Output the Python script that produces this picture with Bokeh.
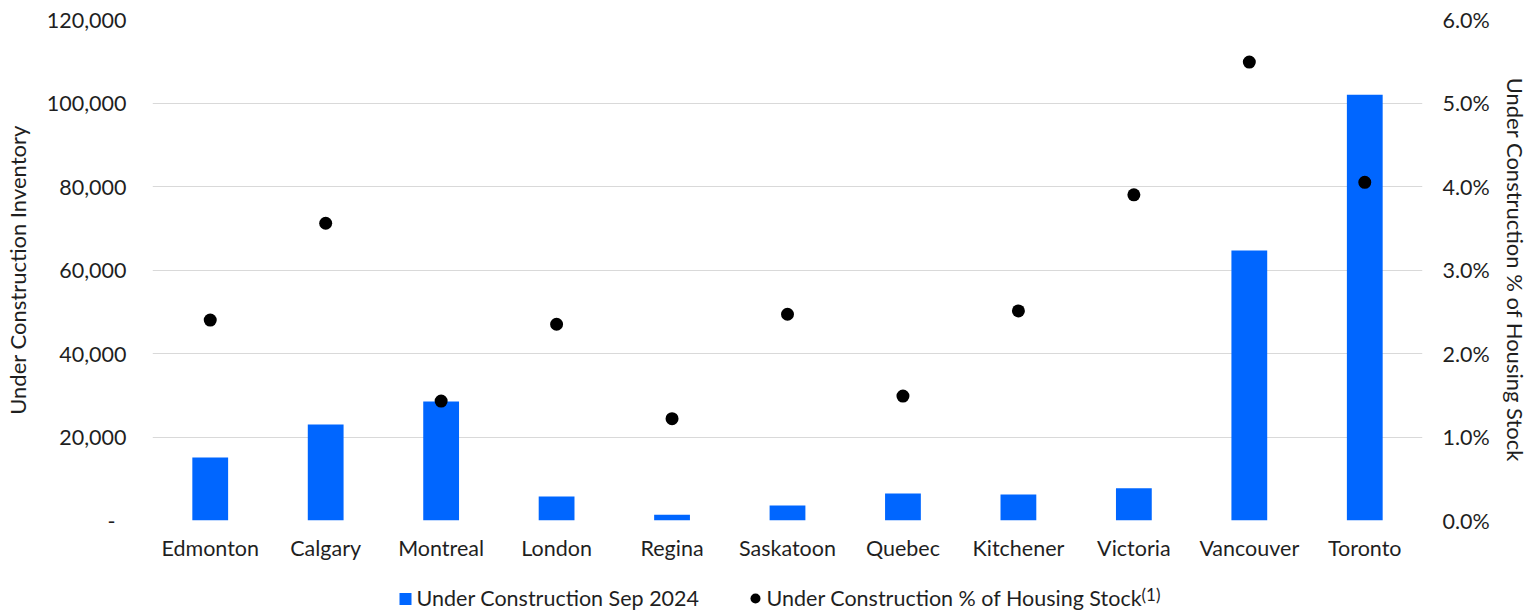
from bokeh.plotting import figure
from bokeh.models import (Range1d, LinearAxis, FixedTicker, NumeralTickFormatter,
                          CustomJSTickFormatter, ColumnDataSource)
from bokeh.layouts import column
from bokeh.embed import file_html
from bokeh.resources import INLINE
from bokeh.core.properties import value

cities = ["Edmonton", "Calgary", "Montreal", "London", "Regina", "Saskatoon",
          "Quebec", "Kitchener", "Victoria", "Vancouver", "Toronto"]
under_construction = [15100, 23000, 28500, 5750, 1400, 3600, 6450, 6200, 7700, 64700, 102000]
pct_housing_stock = [0.0240, 0.0356, 0.0143, 0.0235, 0.0122, 0.0247, 0.0149, 0.0251, 0.0390, 0.0549, 0.0405]
left_ticks = [0, 20000, 40000, 60000, 80000, 100000, 120000]
right_ticks = [0.0, 0.01, 0.02, 0.03, 0.04, 0.05, 0.06]
legend_labels = ["Under Construction Sep 2024", "Under Construction % of Housing Stock", "(1)"]

BAR = "#0066FF"
TXT = "#1f1f1f"
GRID = "#d9d9d9"
FONT = "Lato"
TICK_FS = "21.5px"
TITLE_FS = "22px"

src = ColumnDataSource(dict(city=cities, uc=under_construction, pct=pct_housing_stock))

W = 1533
FL, FR = 152, 1422  # frame left/right in page pixels

p = figure(x_range=cities, y_range=Range1d(0, 120000), width=W, height=564,
           output_backend="svg", toolbar_location=None,
           min_border_left=FL, min_border_right=W - FR, min_border_top=19, min_border_bottom=44)
p.outline_line_color = None
p.extra_y_ranges = {"pct": Range1d(0, 0.06)}

p.vbar(x="city", top="uc", width=0.31, source=src, fill_color=BAR, line_color=None)
p.scatter(x="city", y="pct", y_range_name="pct", source=src, size=13,
          fill_color="black", line_color=None)

p.xgrid.grid_line_color = None
p.ygrid.grid_line_color = GRID
p.ygrid.grid_line_width = 1
p.ygrid.ticker = FixedTicker(ticks=left_ticks)

# left axis
ya = p.yaxis[0]
ya.ticker = FixedTicker(ticks=left_ticks)
ya.formatter = CustomJSTickFormatter(code="""
    if (tick == 0) { return "-\u00a0\u00a0"; }
    return tick.toLocaleString("en-US");
""")
ya.axis_label = "Under Construction Inventory"
ya.major_label_standoff = 26
ya.axis_label_standoff = 13

# right axis
ra = LinearAxis(y_range_name="pct", ticker=FixedTicker(ticks=right_ticks),
                formatter=NumeralTickFormatter(format="0.0%"))
ra.axis_label = "Under Construction % of Housing Stock"
ra.major_label_standoff = 20
ra.axis_label_standoff = 9
p.add_layout(ra, "right")

xa = p.xaxis[0]
xa.major_label_standoff = 14

for ax in [ya, ra, xa]:
    ax.axis_line_color = None
    ax.major_tick_line_color = None
    ax.minor_tick_line_color = None
    ax.major_tick_in = 0
    ax.major_tick_out = 0
    ax.major_label_text_font = FONT
    ax.major_label_text_font_size = TICK_FS
    ax.major_label_text_color = TXT
    ax.axis_label_text_font = FONT
    ax.axis_label_text_font_size = TITLE_FS
    ax.axis_label_text_font_style = "normal"
    ax.axis_label_text_color = TXT

# legend row (its frame is aligned with the main frame by the column layout;
# x range expressed in page pixels, y range in pixels from the page bottom)
LH = 47
lg = figure(width=W, height=LH, x_range=Range1d(FL, FR), y_range=Range1d(0, LH),
            output_backend="svg", toolbar_location=None,
            min_border_left=FL, min_border_right=W - FR, min_border_top=0, min_border_bottom=0)
lg.axis.visible = False
lg.grid.visible = False
lg.outline_line_color = None

lg.scatter(x=[405], y=[12.5], marker="square", size=12, fill_color=BAR, line_color=None)
lg.scatter(x=[755], y=[13], marker="circle", size=10, fill_color="black", line_color=None)
lg.text(x=[416, 766], y=[13.5, 13.5], text=legend_labels[:2], text_font=value(FONT),
        text_font_size="21.5px", text_color=TXT, text_baseline="middle", text_align="left")
lg.text(x=[1141], y=[17.5], text=[legend_labels[2]], text_font=value(FONT),
        text_font_size="17px", text_color=TXT, text_baseline="middle", text_align="left")

layout = column(p, lg, spacing=0)
open("out.html", "w").write(file_html(layout, INLINE))
